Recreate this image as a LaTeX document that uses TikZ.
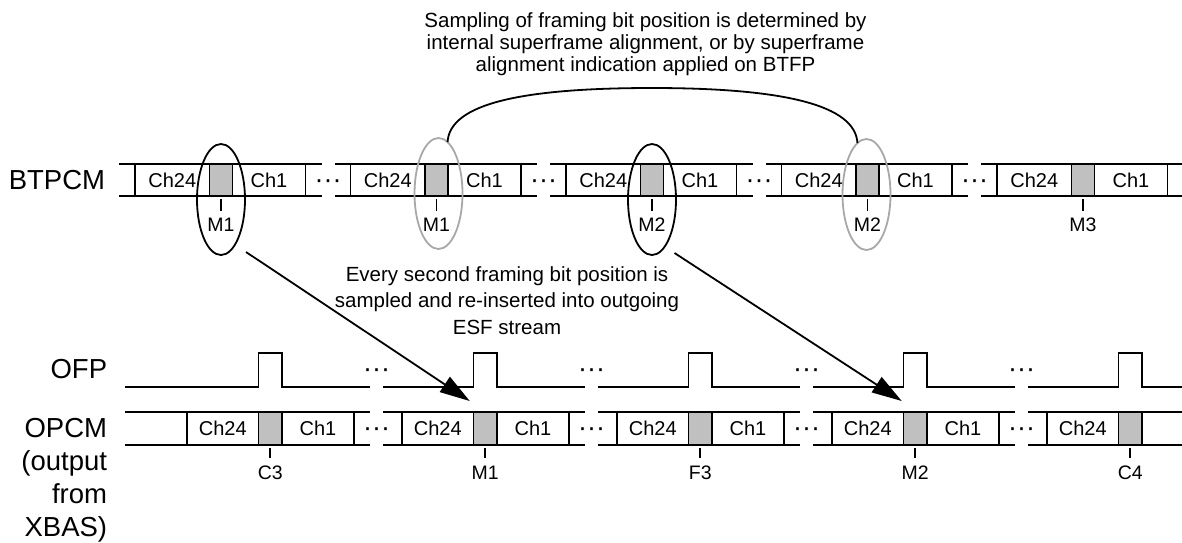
\documentclass[tikz,border=0pt]{standalone}
\usepackage{fontspec}
\setmainfont{Liberation Sans}
\usetikzlibrary{arrows.meta,shapes.geometric,calc}
\definecolor{boxgray}{HTML}{C0C0C0}
\definecolor{ellgray}{HTML}{A8A8A8}
\begin{document}
\begin{tikzpicture}[x=1pt,y=-1pt,line width=1.8pt,
  chbox/.style={draw,rectangle,inner sep=0pt,outer sep=0pt,anchor=west,font=\fontsize{20}{24}\selectfont},
  bbox/.style={chbox,minimum height=32pt},
  obox/.style={chbox,minimum height=33pt},
  graybox/.style={fill=boxgray},
  lab/.style={inner sep=0pt,font=\fontsize{19.5}{23}\selectfont},
  bigl/.style={inner sep=0pt,font=\fontsize{27.5}{33}\selectfont},
  dotsl/.style={inner sep=0pt,anchor=base,font=\fontsize{27}{30}\selectfont},
  ell/.style={ellipse,inner sep=0pt,outer sep=0pt,minimum width=48pt,minimum height=111pt,line width=1.8pt},
  txt/.style={inner sep=0pt,anchor=base},
  arr/.style={-{Triangle[length=30pt,width=18pt]},line width=1.8pt}
]
\useasboundingbox (0,0) rectangle (1182,542);

% ---------- BTPCM ----------
\node[bigl,anchor=base east] (btpcm) at (106,189.8) {BTPCM};
\foreach \i/\lab in {0/M1,1/M1,2/M2,3/M2,4/M3} {
  \pgfmathsetmacro\L{135+215.5*\i}
  \node[bbox,minimum width=74.5pt] (bA\i) at (\L,180) {Ch24};
  \node[bbox,graybox,minimum width=23pt] (bG\i) at (bA\i.east) {};
  \node[bbox,minimum width=73pt] (bC\i) at (bG\i.east) {Ch1};
  \draw (bA\i.north west) -- ++(-16,0);
  \draw (bA\i.south west) -- ++(-16,0);
  \draw (bC\i.north east) -- ++(16,0);
  \draw (bC\i.south east) -- ++(16,0);
  \draw ($(bG\i.south)+(0,3)$) -- ($(bG\i.south)+(0,15)$);
  \node[lab] (bM\i) at ($(bG\i.south)+(0,29)$) {\lab};
}
\foreach \i in {0,...,3} {
  \pgfmathsetmacro\X{135+215.5*\i+170.5+22.5}
  \node[dotsl] (bD\i) at (\X,188.4) {···};
}

% ---------- OPCM ----------
\node[bigl,anchor=base east] (opcm) at (108,437.7)
  {\begin{tabular}[t]{@{}r@{}}OPCM\\(output\\from\\XBAS)\end{tabular}};
\foreach \i/\lab in {0/C3,1/M1,2/F3,3/M2,4/C4} {
  \pgfmathsetmacro\L{187+215*\i}
  \node[obox,minimum width=71.5pt] (oA\i) at (\L,428.5) {Ch24};
  \node[obox,graybox,minimum width=23.5pt] (oG\i) at (oA\i.east) {};
  \draw ($(oG\i.south)+(0,3)$) -- ($(oG\i.south)+(0,13)$);
  \node[lab] (oM\i) at ($(oG\i.south)+(0,28)$) {\lab};
}
\foreach \i in {0,...,3} {
  \node[obox,minimum width=72pt] (oC\i) at (oG\i.east) {Ch1};
  \draw (oC\i.north east) -- ++(16,0);
  \draw (oC\i.south east) -- ++(16,0);
}
\foreach \i in {1,...,4} {
  \draw (oA\i.north west) -- ++(-19,0);
  \draw (oA\i.south west) -- ++(-19,0);
}
\draw (oA0.north west) -- (125,412);
\draw (oA0.south west) -- (125,445);
\draw (oG4.north east) -- (1182,412);
\draw (oG4.south east) -- (1182,445);
\foreach \i in {0,...,3} {
  \pgfmathsetmacro\X{376.5+215*\i}
  \node[dotsl] (oD\i) at (\X,436.9) {···};
}

% ---------- OFP ----------
\node[bigl,anchor=base east] (ofp) at (108,378.9) {OFP};
\foreach \i/\xs/\xe in {0/125/370,1/383/585,2/598/800,3/813/1015,4/1028/1182} {
  \pgfmathsetmacro\pa{258.5+215*\i}
  \pgfmathsetmacro\pb{282+215*\i}
  \draw (\xs,387) -- (\pa,387) -- (\pa,353) -- (\pb,353) -- (\pb,387) -- (\xe,387);
}
\foreach \i in {0,...,3} {
  \pgfmathsetmacro\X{376.5+215*\i}
  \node[dotsl] (fD\i) at (\X,377.4) {···};
}

% ---------- ellipses ----------
\node[ell,draw=black] (e1) at ($(bG0.center)+(0,19.5)$) {};
\node[ell,draw=ellgray] (e2) at ($(bG1.center)+(2,13.5)$) {};
\node[ell,draw=black] (e3) at ($(bG2.center)+(0,19.5)$) {};
\node[ell,draw=ellgray] (e4) at ($(bG3.center)+(-1,14.5)$) {};

% top arc
\coordinate (arctop) at (652,88);
\draw (e2.80) .. controls ($(e2.80)+(2,-38)$) and (520,88) .. (arctop)
      .. controls (784,88) and ($(e4.100)+(-2,-38)$) .. (e4.100);

% arrows
\coordinate (a1s) at ($(e1.center)+(25,52.5)$);
\coordinate (a1e) at ($(oG1.north)+(-15.5,-11)$);
\draw[arr] (a1s) -- (a1e);
\coordinate (a2s) at ($(e3.center)+(22.5,53.5)$);
\coordinate (a2e) at ($(oG3.north)+(-13.5,-11)$);
\draw[arr] (a2s) -- (a2e);

% texts
\node[txt,font=\fontsize{20.5}{22}\selectfont] (ttop) at (645.5,27.3)
  {\begin{tabular}[t]{@{}c@{}}Sampling of framing bit position is determined by\\internal superframe alignment, or by superframe\\alignment indication applied on BTFP\end{tabular}};
\node[txt,font=\fontsize{20.5}{26.5}\selectfont] (tmid) at (507,281)
  {\begin{tabular}[t]{@{}c@{}}Every second framing bit position is\\sampled and re-inserted into outgoing\\ESF stream\end{tabular}};
\end{tikzpicture}
\end{document}
